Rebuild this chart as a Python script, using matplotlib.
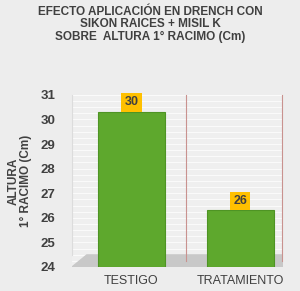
import matplotlib
matplotlib.use("Agg")
from matplotlib import pyplot as plt
from matplotlib.patches import Polygon
import numpy as np

categories = ["TESTIGO", "TRATAMIENTO"]
values = [30.3, 26.3]
labels = ["30", "26"]
yticks = [24, 25, 26, 27, 28, 29, 30, 31]

plt.rcParams["font.family"] = ["Liberation Sans Narrow", "Liberation Sans", "DejaVu Sans"]
TXT = "#404040"

fig = plt.figure(figsize=(3.0, 2.91), dpi=100)
fig.patch.set_facecolor("#ededed")
ax = fig.add_axes([0.24, 0.0825, 0.703, 0.5915])
ax.set_facecolor("#efefef")

# floor of the 3d look
floor = Polygon([[0.0, 0.0], [0.07, 0.07], [1.0, 0.07], [1.0, 0.0]],
                closed=True, transform=ax.transAxes, color="#c8c8c8", zorder=1)
ax.add_patch(floor)

x = np.arange(len(categories))
bars = ax.bar(x, [v - 24 for v in values], bottom=24, width=0.615,
              color="#5ea82d", edgecolor="#4e9424", linewidth=0.8, zorder=3)

for xi, v, lab in zip(x, values, labels):
    ax.text(xi, v + 0.15, lab, ha="center", va="bottom", fontsize=9,
            fontweight="bold", color=TXT, zorder=4,
            bbox=dict(boxstyle="square,pad=0.25", facecolor="#ffc000", edgecolor="none"))

for yt in np.arange(24, 31.01, 0.25):
    ax.axhline(yt, color="white", linewidth=0.5, zorder=0)
for xs in [0.5, 1.385]:
    ax.axvline(xs, ymin=0.035, color="#c9928f", linewidth=0.8, zorder=2, clip_on=False)
ax.axvline(-0.546, ymin=0.07, color="#dcdcdc", linewidth=0.8, zorder=2, clip_on=False)

ax.set_xlim(-0.546, 1.39)
ax.set_ylim(24, 31)
ax.set_yticks(yticks)
ax.set_xticks(x)
ax.set_xticklabels(categories, fontsize=9, color=TXT)
ax.tick_params(axis="y", labelsize=9.5, labelcolor=TXT, length=0, pad=12)
ax.tick_params(axis="x", length=0, pad=6)
for lbl in ax.get_yticklabels():
    lbl.set_fontweight("bold")
for s in ax.spines.values():
    s.set_visible(False)

ax.set_ylabel("ALTURA\n1° RACIMO (Cm)", fontsize=8.5, color=TXT, fontweight="bold",
              linespacing=1.0, labelpad=6)

fig.text(0.5, 0.98, "EFECTO APLICACIÓN EN DRENCH CON\nSIKON RAICES + MISIL K\nSOBRE  ALTURA 1° RACIMO (Cm)",
         ha="center", va="top", fontsize=8.5, fontweight="bold", color=TXT, linespacing=1.05)

fig.savefig("out.png", dpi=100, facecolor=fig.get_facecolor())
